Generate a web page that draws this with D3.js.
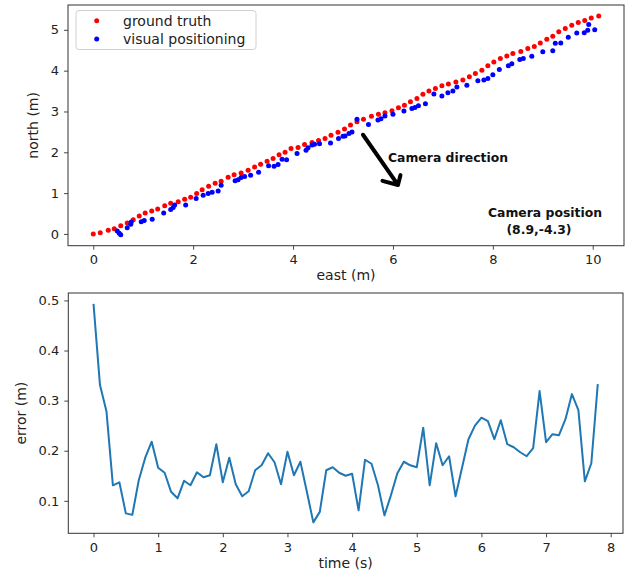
<!DOCTYPE html>
<html>
<head>
<meta charset="utf-8">
<script src="https://cdn.jsdelivr.net/npm/d3@7"></script>
<style>
  html, body { margin: 0; padding: 0; background: #fff; }
  svg { display: block; }
  .tick text { font-family: "DejaVu Sans", sans-serif; font-size: 13px; fill: #222; }
  .lbl { font-family: "DejaVu Sans", sans-serif; font-size: 14px; fill: #222; }
  .ann { font-family: "DejaVu Sans", sans-serif; font-weight: bold; font-size: 12.4px; fill: #111; }
</style>
</head>
<body>
<script>
// ---------- data ----------
const gtEast = [0,0.14,0.30,0.42,0.55,0.68,0.80,0.92,1.04,1.17,1.29,1.43,1.55,1.70,1.83,1.95,2.07,2.18,2.31,2.44,2.56,2.70,2.82,2.96,3.10,3.23,3.35,3.48,3.60,3.72,3.84,3.96,4.10,4.23,4.38,4.51,4.64,4.76,4.90,5.03,5.15,5.28,5.41,5.57,5.71,5.84,5.98,6.11,6.23,6.35,6.48,6.60,6.72,6.85,6.98,7.11,7.26,7.40,7.53,7.65,7.78,7.90,8.02,8.15,8.28,8.40,8.56,8.70,8.83,8.95,9.08,9.20,9.32,9.45,9.58,9.71,9.84,9.97,10.12];
const gtNorth = [0.00,0.03,0.09,0.13,0.20,0.27,0.35,0.44,0.51,0.56,0.61,0.69,0.75,0.79,0.85,0.90,0.99,1.08,1.17,1.24,1.29,1.39,1.45,1.49,1.56,1.64,1.71,1.78,1.85,1.94,2.00,2.09,2.12,2.19,2.24,2.29,2.34,2.42,2.49,2.57,2.67,2.75,2.81,2.88,2.93,2.97,3.02,3.09,3.15,3.24,3.32,3.42,3.50,3.56,3.63,3.67,3.72,3.77,3.85,3.93,4.01,4.12,4.21,4.30,4.36,4.42,4.47,4.54,4.59,4.68,4.77,4.84,4.95,5.03,5.11,5.18,5.23,5.29,5.34];
const vpEast = [0.48,0.52,0.55,0.68,0.75,0.76,0.96,1.02,1.18,1.41,1.55,1.60,1.63,1.85,2.06,2.20,2.30,2.38,2.50,2.56,2.84,2.90,2.96,3.03,3.15,3.31,3.51,3.62,3.70,3.78,3.87,4.08,4.26,4.30,4.38,4.43,4.53,4.75,4.91,5.00,5.04,5.12,5.18,5.28,5.51,5.70,5.76,5.84,6.00,6.22,6.38,6.44,6.51,6.65,6.82,6.98,7.10,7.20,7.28,7.48,7.70,7.82,7.90,8.00,8.13,8.31,8.38,8.54,8.61,8.78,9.00,9.20,9.25,9.36,9.51,9.68,9.83,9.90,9.92,10.04];
const vpNorth = [0.07,0.02,-0.02,0.15,0.24,0.29,0.30,0.33,0.36,0.51,0.60,0.65,0.71,0.71,0.87,0.95,0.99,1.02,1.05,1.19,1.30,1.33,1.38,1.41,1.44,1.51,1.67,1.66,1.70,1.83,1.82,1.97,2.05,2.11,2.18,2.20,2.21,2.23,2.34,2.39,2.40,2.46,2.50,2.81,2.68,2.79,2.82,2.89,2.93,3.01,3.07,3.10,3.14,3.19,3.43,3.38,3.46,3.50,3.60,3.64,3.75,3.77,3.81,3.90,4.03,4.12,4.17,4.27,4.30,4.35,4.46,4.49,4.67,4.68,4.82,4.92,4.93,4.99,5.13,5.00];
const timeS = [0,0.1,0.2,0.3,0.4,0.5,0.6,0.7,0.8,0.9,1.0,1.1,1.2,1.3,1.4,1.5,1.6,1.7,1.8,1.9,2.0,2.1,2.2,2.3,2.4,2.5,2.6,2.7,2.8,2.9,3.0,3.1,3.2,3.3,3.4,3.5,3.6,3.7,3.8,3.9,4.0,4.1,4.2,4.3,4.4,4.5,4.6,4.7,4.8,4.9,5.0,5.1,5.2,5.3,5.4,5.5,5.6,5.7,5.8,5.9,6.0,6.1,6.2,6.3,6.4,6.5,6.6,6.7,6.8,6.9,7.0,7.1,7.2,7.3,7.4,7.5,7.6,7.7,7.8];
const errorM = [0.493,0.331,0.279,0.131,0.137,0.075,0.072,0.141,0.186,0.218,0.166,0.156,0.118,0.105,0.140,0.131,0.157,0.147,0.151,0.213,0.137,0.186,0.133,0.109,0.119,0.161,0.171,0.195,0.177,0.133,0.198,0.151,0.178,0.118,0.057,0.078,0.161,0.167,0.156,0.150,0.154,0.081,0.182,0.174,0.131,0.071,0.111,0.155,0.178,0.171,0.167,0.246,0.131,0.215,0.171,0.189,0.109,0.166,0.223,0.250,0.266,0.259,0.223,0.261,0.213,0.207,0.197,0.189,0.205,0.319,0.217,0.233,0.231,0.263,0.313,0.281,0.139,0.175,0.333];
const eastTicks = [0,2,4,6,8,10];
const northTicks = [0,1,2,3,4,5];
const timeTicks = [0,1,2,3,4,5,6,7,8];
const errorTicks = [0.1,0.2,0.3,0.4,0.5];
const legendLabels = ["ground truth","visual positioning"];
const annDirection = "Camera direction";
const annPosition = ["Camera position","(8.9,-4.3)"];
// arrow annotation (data coordinates of the upper plot)
const arrowStart = [5.4, 2.43], arrowTip = [6.1, 1.20];
const arrowWingA = [5.79, 1.30], arrowWingB = [6.15, 1.44];

// ---------- layout ----------
const W = 633, H = 574;
const svg = d3.select("body").append("svg").attr("width", W).attr("height", H);
const spine = "#333";

function pad(ext) { const r = ext[1]-ext[0]; return [ext[0]-0.05*r, ext[1]+0.05*r]; }

// ----- top plot -----
const t = {l: 68, r: 624, t: 5, b: 245.7};
const xE = d3.scaleLinear().domain(pad(d3.extent(gtEast.concat(vpEast)))).range([t.l, t.r]);
const yN = d3.scaleLinear().domain(pad(d3.extent(gtNorth.concat(vpNorth)))).range([t.b, t.t]);

const gTop = svg.append("g");
function styleAxis(g) {
  g.select(".domain").remove();
  g.selectAll(".tick line").attr("stroke", spine).attr("stroke-width", 0.9);
}
gTop.append("g").attr("transform", `translate(0,${t.b})`)
  .call(d3.axisBottom(xE).tickValues(eastTicks).tickSize(4).tickPadding(5).tickFormat(d3.format("d")))
  .call(styleAxis);
gTop.append("g").attr("transform", `translate(${t.l},0)`)
  .call(d3.axisLeft(yN).tickValues(northTicks).tickSize(4).tickPadding(5).tickFormat(d3.format("d")))
  .call(styleAxis);

gTop.append("g").selectAll("circle.gt").data(gtEast.map((e,i)=>[e,gtNorth[i]])).join("circle")
  .attr("cx", d=>xE(d[0])).attr("cy", d=>yN(d[1])).attr("r", 2.5).attr("fill", "#ff0000");
gTop.append("g").selectAll("circle.vp").data(vpEast.map((e,i)=>[e,vpNorth[i]])).join("circle")
  .attr("cx", d=>xE(d[0])).attr("cy", d=>yN(d[1])).attr("r", 2.5).attr("fill", "#0000ff");

gTop.append("rect").attr("x", t.l).attr("y", t.t).attr("width", t.r-t.l).attr("height", t.b-t.t)
  .attr("fill", "none").attr("stroke", spine).attr("stroke-width", 1);

// arrow
const P = d => [xE(d[0]), yN(d[1])];
gTop.append("path")
  .attr("d", `M${P(arrowStart)}L${P(arrowTip)}M${P(arrowWingA)}L${P(arrowTip)}L${P(arrowWingB)}`)
  .attr("fill", "none").attr("stroke", "#000").attr("stroke-width", 4)
  .attr("stroke-linecap", "round").attr("stroke-linejoin", "round");

gTop.append("text").attr("class", "ann").attr("x", 388).attr("y", 162).text(annDirection);
gTop.append("text").attr("class", "ann").attr("x", 545).attr("y", 217).attr("text-anchor", "middle").text(annPosition[0]);
gTop.append("text").attr("class", "ann").attr("x", 539).attr("y", 234).attr("text-anchor", "middle").text(annPosition[1]);

// legend
const lg = gTop.append("g");
lg.append("rect").attr("x", 76).attr("y", 10.5).attr("width", 180).attr("height", 39).attr("rx", 3)
  .attr("fill", "#fff").attr("fill-opacity", 0.8).attr("stroke", "#d0d0d0").attr("stroke-width", 1);
const lgColors = ["#ff0000", "#0000ff"];
legendLabels.forEach((s, i) => {
  lg.append("circle").attr("cx", 96.7).attr("cy", 20.7 + i*18.3).attr("r", 2.5).attr("fill", lgColors[i]);
  lg.append("text").attr("class", "lbl").attr("x", 123).attr("y", 20.7 + i*18.3 + 5).text(s);
});

svg.append("text").attr("class", "lbl").attr("x", (t.l+t.r)/2).attr("y", 280).attr("text-anchor", "middle").text("east (m)");
svg.append("text").attr("class", "lbl").attr("transform", `translate(38,${(t.t+t.b)/2}) rotate(-90)`).attr("text-anchor", "middle").text("north (m)");

// ----- bottom plot -----
const b = {l: 68.3, r: 623, t: 293, b: 533.3};
const xT = d3.scaleLinear().domain(pad(d3.extent(timeS))).range([b.l, b.r]);
const yErr = d3.scaleLinear().domain(pad(d3.extent(errorM))).range([b.b, b.t]);
const gBot = svg.append("g");
gBot.append("g").attr("transform", `translate(0,${b.b})`)
  .call(d3.axisBottom(xT).tickValues(timeTicks).tickSize(4).tickPadding(5).tickFormat(d3.format("d")))
  .call(styleAxis);
gBot.append("g").attr("transform", `translate(${b.l},0)`)
  .call(d3.axisLeft(yErr).tickValues(errorTicks).tickSize(4).tickPadding(5).tickFormat(d3.format(".1f")))
  .call(styleAxis);
gBot.append("path").datum(timeS.map((s,i)=>[s,errorM[i]]))
  .attr("d", d3.line().x(d=>xT(d[0])).y(d=>yErr(d[1])))
  .attr("fill", "none").attr("stroke", "#1f77b4").attr("stroke-width", 2).attr("stroke-linejoin", "round");
gBot.append("rect").attr("x", b.l).attr("y", b.t).attr("width", b.r-b.l).attr("height", b.b-b.t)
  .attr("fill", "none").attr("stroke", spine).attr("stroke-width", 1);

svg.append("text").attr("class", "lbl").attr("x", (b.l+b.r)/2).attr("y", 568).attr("text-anchor", "middle").text("time (s)");
svg.append("text").attr("class", "lbl").attr("transform", `translate(26,${(b.t+b.b)/2}) rotate(-90)`).attr("text-anchor", "middle").text("error (m)");
</script>
</body>
</html>
